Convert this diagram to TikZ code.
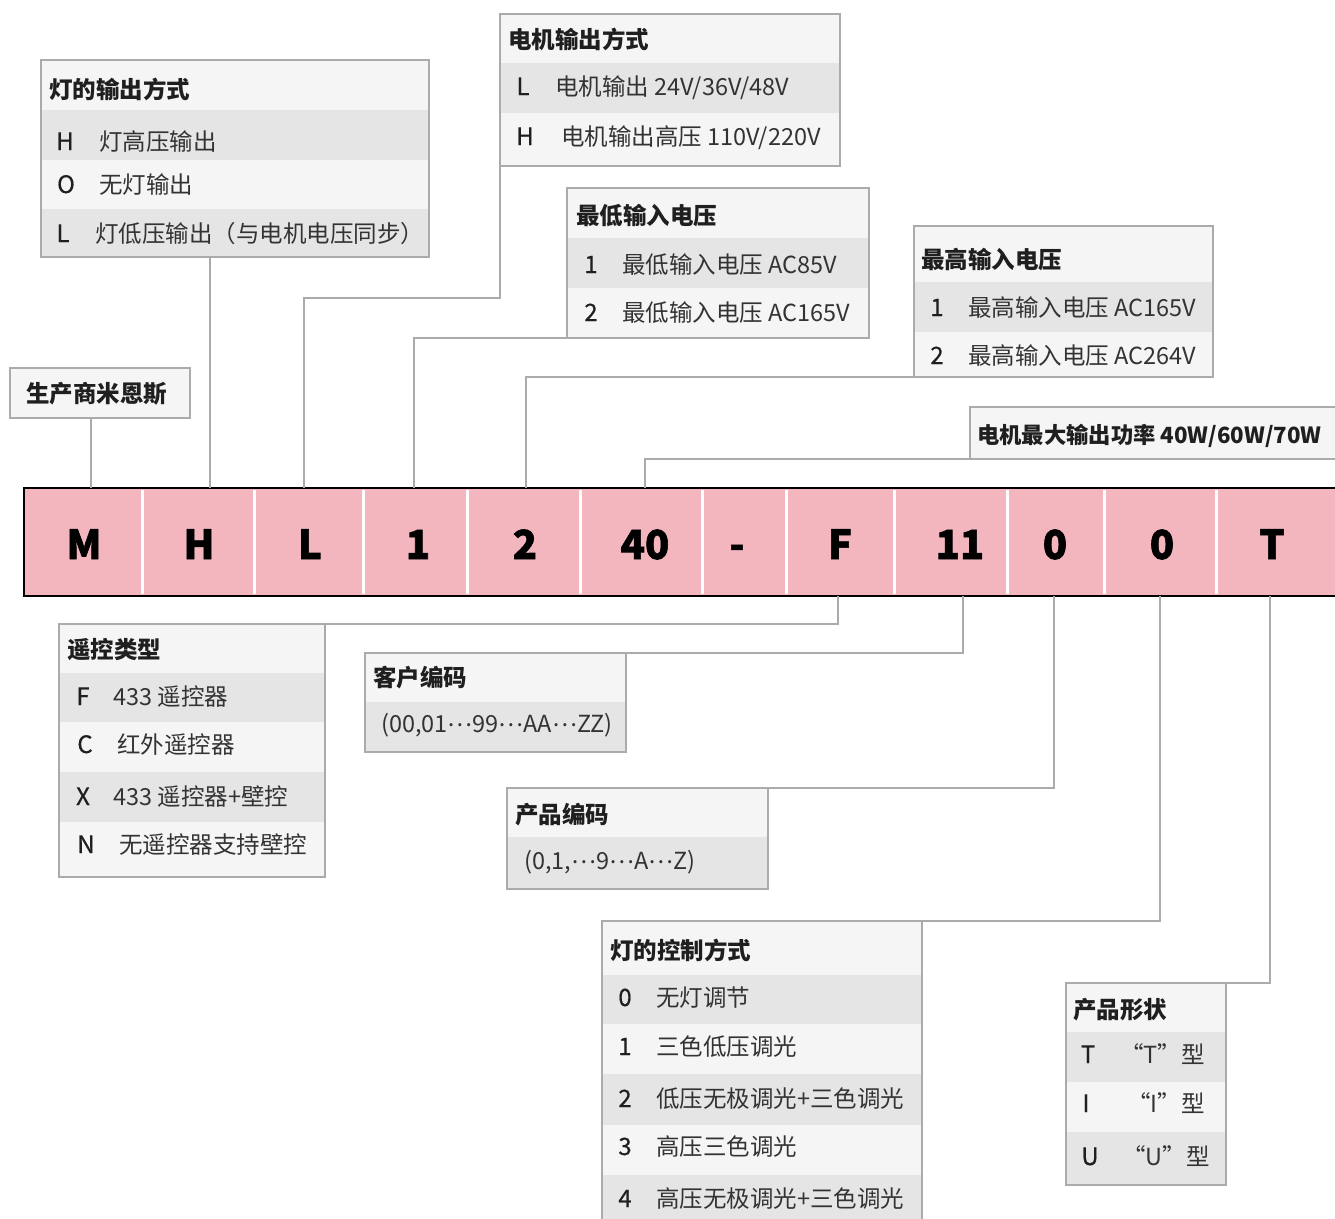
\documentclass[tikz,border=0pt]{standalone}
\usepackage{fontspec}
\setmainfont{Noto Sans CJK SC}
\newfontfamily\heavyfont{Noto Sans CJK SC}[BoldFeatures={FakeBold=1.5}]
\newfontfamily\keyfont{Noto Sans CJK SC}[FakeBold=0.6]
\newcommand{\midell}{\raisebox{6pt}{…}}
\definecolor{pinkcell}{HTML}{F3B6BE}
\definecolor{boxline}{HTML}{ABABAB}
\definecolor{rowA}{HTML}{F5F5F5}
\definecolor{rowB}{HTML}{E5E5E5}
\definecolor{txt}{HTML}{333333}
\definecolor{ttltxt}{HTML}{1F1F1F}
\begin{document}
\begin{tikzpicture}[x=1pt,y=-1pt,
  boxo/.style={draw=boxline, line width=2.5pt, anchor=north west, inner sep=0pt, outer sep=0pt},
  conn/.style={draw=boxline, line width=2.5pt},
  ttl/.style={anchor=base west, inner sep=0pt, text=ttltxt, font=\fontsize{23.5}{28}\selectfont\bfseries},
  item/.style={anchor=base west, inner sep=0pt, text=txt, font=\fontsize{23.5}{28}\selectfont},
  keyc/.style={anchor=base, inner sep=0pt, text=ttltxt, font=\keyfont\fontsize{24}{28}\selectfont},
  cell/.style={anchor=base, inner sep=0pt, text=black, font=\heavyfont\bfseries\fontsize{40}{48}\selectfont}
]
\useasboundingbox (0,0) rectangle (1335,1218);
\fill[white] (0,0) rectangle (1335,1218);
\clip (0,0) rectangle (1335,1218);

% ---------- code bar ----------
\fill[pinkcell] (24,488) rectangle (1345,596);
\foreach \x in {142,254,363,467,580,702,786,894,1007,1104,1216}
  \draw[white, line width=3pt] (\x,490) -- (\x,594);
\draw[black, line width=2.5pt] (1345,488) -- (24,488) -- (24,596) -- (1345,596);
\node[cell] (cM)  at (84,559)   {M};
\node[cell] (cH)  at (199,559)  {H};
\node[cell] (cL)  at (310,559)  {L};
\node[cell] (c1)  at (418,559)  {1};
\node[cell] (c2)  at (525,559)  {2};
\node[cell] (c40) at (645,559)  {40};
\node[cell] (cD)  at (737,559)  {-};
\node[cell] (cF)  at (840,559)  {F};
\node[cell] (c11) at (960,559)  {11};
\node[cell] (c0a) at (1055,559) {0};
\node[cell] (c0b) at (1162,559) {0};
\node[cell] (cT)  at (1272,559) {T};

% ---------- row fills ----------
\fill[rowA] (41,60) rectangle (429,110);
\fill[rowB] (41,110) rectangle (429,160);
\fill[rowA] (41,160) rectangle (429,209);
\fill[rowB] (41,209) rectangle (429,257);
\fill[rowA] (500,14) rectangle (840,63);
\fill[rowB] (500,63) rectangle (840,113);
\fill[rowA] (500,113) rectangle (840,166);
\fill[rowA] (567,188) rectangle (869,238);
\fill[rowB] (567,238) rectangle (869,288);
\fill[rowA] (567,288) rectangle (869,338);
\fill[rowA] (914,226) rectangle (1213,282);
\fill[rowB] (914,282) rectangle (1213,332);
\fill[rowA] (914,332) rectangle (1213,377);
\fill[rowA] (970,407) rectangle (1345,459);
\fill[rowA] (10,368) rectangle (190,418);
\fill[rowA] (59,624) rectangle (325,673);
\fill[rowB] (59,673) rectangle (325,722);
\fill[rowA] (59,722) rectangle (325,772);
\fill[rowB] (59,772) rectangle (325,822);
\fill[rowA] (59,822) rectangle (325,877);
\fill[rowA] (365,653) rectangle (626,702);
\fill[rowB] (365,702) rectangle (626,752);
\fill[rowA] (507,788) rectangle (768,837);
\fill[rowB] (507,837) rectangle (768,889);
\fill[rowA] (602,921) rectangle (922,975);
\fill[rowB] (602,975) rectangle (922,1024);
\fill[rowA] (602,1024) rectangle (922,1074);
\fill[rowB] (602,1074) rectangle (922,1125);
\fill[rowA] (602,1125) rectangle (922,1175);
\fill[rowB] (602,1175) rectangle (922,1230);
\fill[rowA] (1066,983) rectangle (1226,1032);
\fill[rowB] (1066,1032) rectangle (1226,1082);
\fill[rowA] (1066,1082) rectangle (1226,1132);
\fill[rowB] (1066,1132) rectangle (1226,1185);

% ---------- box outlines ----------
\node[boxo, minimum width=388pt, minimum height=197pt] (bLight)  at (41,60)   {};
\node[boxo, minimum width=340pt, minimum height=152pt] (bMotor)  at (500,14)  {};
\node[boxo, minimum width=302pt, minimum height=150pt] (bMin)    at (567,188) {};
\node[boxo, minimum width=299pt, minimum height=151pt] (bMax)    at (914,226) {};
\node[boxo, minimum width=375pt, minimum height=52pt]  (bPow)    at (970,407) {};
\node[boxo, minimum width=180pt, minimum height=50pt]  (bMaker)  at (10,368)  {};
\node[boxo, minimum width=266pt, minimum height=253pt] (bRemote) at (59,624)  {};
\node[boxo, minimum width=261pt, minimum height=99pt]  (bCust)   at (365,653) {};
\node[boxo, minimum width=261pt, minimum height=101pt] (bProd)   at (507,788) {};
\node[boxo, minimum width=320pt, minimum height=309pt] (bCtrl)   at (602,921) {};
\node[boxo, minimum width=160pt, minimum height=202pt] (bShape)  at (1066,983) {};

% ---------- connectors ----------
\coordinate (pM)  at (91,488);
\coordinate (pH)  at (210,488);
\coordinate (pL)  at (304,488);
\coordinate (kL)  at (500,298);
\coordinate (p1)  at (414,488);
\coordinate (p2)  at (526,488);
\coordinate (p40) at (645,488);
\coordinate (pF)  at (838,596);
\coordinate (p11) at (963,596);
\coordinate (p0a) at (1054,596);
\coordinate (p0b) at (1160,596);
\coordinate (pT)  at (1270,596);
\draw[conn] (pM) -- (pM |- bMaker.south);
\draw[conn] (pH) -- (pH |- bLight.south);
\draw[conn] (pL) |- (kL) -- (bMotor.south west);
\draw[conn] (p1) |- (bMin.south west);
\draw[conn] (p2) |- (bMax.south west);
\draw[conn] (p40) |- (bPow.south west);
\draw[conn] (pF) |- (bRemote.north east);
\draw[conn] (p11) |- (bCust.north east);
\draw[conn] (p0a) |- (bProd.north east);
\draw[conn] (p0b) |- (bCtrl.north east);
\draw[conn] (pT) |- (bShape.north east);

% ---------- texts ----------
\node[ttl] (tLight) at (49,98) {灯的输出方式};
\node[keyc] (kLH) at (65,150) {H};
\node[item] (iLH) at (99,150) {灯高压输出};
\node[keyc] (kLO) at (66,193) {O};
\node[item] (iLO) at (99,193) {无灯输出};
\node[keyc] (kLL) at (63,242) {L};
\node[item] (iLL) at (95,242) {灯低压输出（与电机电压同步）};
\node[ttl] (tMotor) at (508,48) {电机输出方式};
\node[keyc] (kML) at (523,95) {L};
\node[item] (iML) at (555,95) {电机输出 24V/36V/48V};
\node[keyc] (kMH) at (525,145) {H};
\node[item] (iMH) at (561,145) {电机输出高压 110V/220V};
\node[ttl] (tMin) at (576,224) {最低输入电压};
\node[keyc] (kN1) at (591,273) {1};
\node[item] (iN1) at (622,273) {最低输入电压 AC85V};
\node[keyc] (kN2) at (591,321) {2};
\node[item] (iN2) at (622,321) {最低输入电压 AC165V};
\node[ttl] (tMax) at (921,268) {最高输入电压};
\node[keyc] (kX1) at (937,316) {1};
\node[item] (iX1) at (968,316) {最高输入电压 AC165V};
\node[keyc] (kX2) at (937,364) {2};
\node[item] (iX2) at (968,364) {最高输入电压 AC264V};
\node[ttl, font=\fontsize{22.3}{28}\selectfont\bfseries] (tPow) at (977,443) {电机最大输出功率 40W/60W/70W};
\node[ttl] (tMaker) at (26,402) {生产商米恩斯};
\node[ttl] (tRemote) at (67,658) {遥控类型};
\node[keyc] (kRF) at (83,705) {F};
\node[item] (iRF) at (113,705) {433 遥控器};
\node[keyc] (kRC) at (85,753) {C};
\node[item] (iRC) at (117,753) {红外遥控器};
\node[keyc] (kRX) at (83,805) {X};
\node[item] (iRX) at (113,805) {433 遥控器+壁控};
\node[keyc] (kRN) at (86,853) {N};
\node[item] (iRN) at (119,853) {无遥控器支持壁控};
\node[ttl] (tCust) at (373,686) {客户编码};
\node[item] (iCust) at (381,732) {(00,01\midell99\midell AA\midell ZZ)};
\node[ttl] (tProd) at (515,823) {产品编码};
\node[item] (iProd) at (524,869) {(0,1,\midell9\midell A\midell Z)};
\node[ttl] (tCtrl) at (610,959) {灯的控制方式};
\node[keyc] (kC0) at (625,1006) {0};
\node[item] (iC0) at (656,1006) {无灯调节};
\node[keyc] (kC1) at (625,1055) {1};
\node[item] (iC1) at (656,1055) {三色低压调光};
\node[keyc] (kC2) at (625,1107) {2};
\node[item] (iC2) at (656,1107) {低压无极调光+三色调光};
\node[keyc] (kC3) at (625,1155) {3};
\node[item] (iC3) at (656,1155) {高压三色调光};
\node[keyc] (kC4) at (625,1207) {4};
\node[item] (iC4) at (656,1207) {高压无极调光+三色调光};
\node[ttl] (tShape) at (1073,1018) {产品形状};
\node[keyc] (kST) at (1088,1063) {T};
\node[item] (iST) at (1120,1063) {“T”型};
\node[keyc] (kSI) at (1086,1112) {I};
\node[item] (iSI) at (1127,1112) {“I”型};
\node[keyc] (kSU) at (1090,1165) {U};
\node[item] (iSU) at (1122,1165) {“U”型};
\end{tikzpicture}
\end{document}
